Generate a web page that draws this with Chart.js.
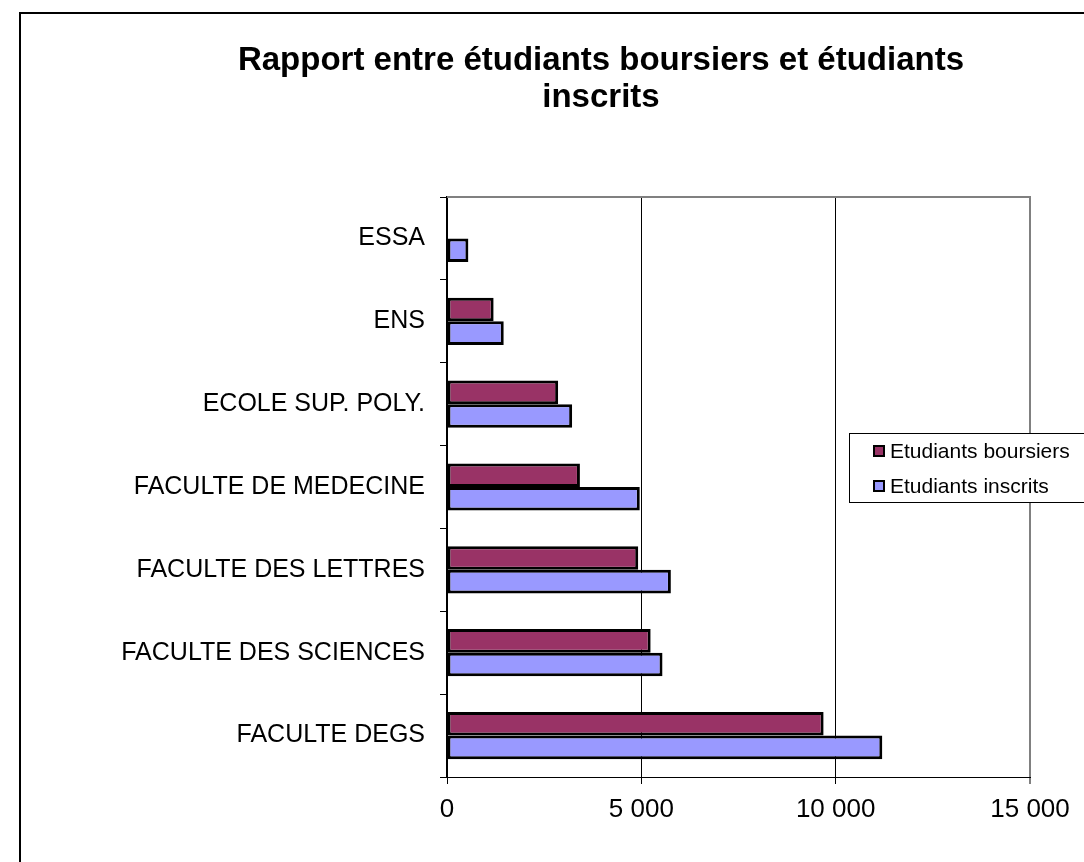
<!DOCTYPE html>
<html lang="fr">
<head>
    <meta charset="UTF-8">
    <title>Rapport entre étudiants boursiers et étudiants inscrits</title>
    <script src="https://cdn.jsdelivr.net/npm/chart.js"></script>
    <style>
        body { margin: 0; background: #fff; }
        #wrap { position: relative; width: 1084px; height: 862px; overflow: hidden; }
        #frame { position: absolute; left: 19px; top: 12px; width: 1200px; height: 1000px;
                 border-left: 2px solid #000; border-top: 2px solid #000; }
        #title { position: absolute; left: 101px; top: 40px; width: 1000px; text-align: center;
                 font: bold 33px/37px "Liberation Sans", Arial, sans-serif; color: #000; }
        #legend { position: absolute; left: 849px; top: 433px; width: 260px; height: 68px;
                  background: #fff; border: 1px solid #000; font: 21px "Liberation Sans", Arial, sans-serif; }
        #legend div { position: absolute; left: 23px; white-space: nowrap; line-height: 24px; }
        #legend span { display: inline-block; width: 8px; height: 8px; border: 2px solid #000;
                       margin-right: 5px; vertical-align: 1px; }
    </style>
</head>
<body>
<div id="wrap">
    <div id="frame"></div>
    <canvas id="chart" width="1084" height="862"></canvas>
    <div id="title">Rapport entre étudiants boursiers et étudiants<br>inscrits</div>
    <div id="legend"></div>
</div>

<script>
    // data
    const categories = ['ESSA', 'ENS', 'ECOLE SUP. POLY.', 'FACULTE DE MEDECINE',
                        'FACULTE DES LETTRES', 'FACULTE DES SCIENCES', 'FACULTE DEGS'];
    const boursiers = [null, 1200, 2860, 3420, 4920, 5240, 9690];
    const inscrits = [550, 1460, 3220, 4960, 5760, 5545, 11200];
    const seriesNames = ['Etudiants boursiers', 'Etudiants inscrits'];
    const xTicks = [0, 5000, 10000, 15000];
    const xTickLabels = ['0', '5 000', '10 000', '15 000'];

    const colors = ['#993366', '#9999FF'];

    Chart.defaults.font.family = '"Liberation Sans", Arial, sans-serif';
    Chart.defaults.color = '#000';

    // grey top edge of the plot area
    const plotBorder = {
        id: 'plotBorder',
        beforeDatasetsDraw(chart) {
            const a = chart.chartArea;
            const ctx = chart.ctx;
            ctx.save();
            ctx.strokeStyle = '#808080';
            ctx.lineWidth = 2;
            ctx.beginPath();
            ctx.moveTo(a.left, a.top);
            ctx.lineTo(a.right + 1, a.top);
            ctx.stroke();
            ctx.restore();
        }
    };

    const chart = new Chart(document.getElementById('chart'), {
        type: 'bar',
        data: {
            labels: categories,
            datasets: [
                { label: seriesNames[0], data: boursiers, backgroundColor: colors[0] },
                { label: seriesNames[1], data: inscrits, backgroundColor: colors[1] }
            ]
        },
        options: {
            indexAxis: 'y',
            responsive: false,
            animation: false,
            layout: { padding: { left: 90, right: 54, top: 197, bottom: 0 } },
            datasets: {
                bar: {
                    borderColor: '#000',
                    borderWidth: 3,
                    borderSkipped: false,
                    categoryPercentage: 0.57,
                    barPercentage: 1
                }
            },
            plugins: {
                legend: { display: false },
                tooltip: { enabled: false }
            },
            scales: {
                x: {
                    min: 0,
                    max: 15000,
                    afterBuildTicks: s => { s.ticks = xTicks.map(v => ({ value: v })); },
                    afterFit: s => { s.height = 85; },
                    ticks: {
                        font: { size: 26 },
                        padding: 10,
                        callback: (v, i) => xTickLabels[i]
                    },
                    grid: {
                        color: c => c.tick && c.tick.value === 15000 ? '#808080' : '#000',
                        lineWidth: c => c.tick && c.tick.value === 15000 ? 2 : 1,
                        tickLength: 7
                    },
                    border: { color: '#000', width: 1 }
                },
                y: {
                    afterFit: s => { s.width = 447 - 90; },
                    ticks: { font: { size: 25 }, padding: 15 },
                    grid: { drawOnChartArea: false, color: '#000', tickLength: 7 },
                    border: { color: '#000', width: 2 }
                }
            }
        },
        plugins: [plotBorder]
    });

    // legend box, built from the datasets
    const legend = document.getElementById('legend');
    chart.data.datasets.forEach((ds, i) => {
        const row = document.createElement('div');
        row.style.top = (5 + i * 35) + 'px';
        row.innerHTML = '<span style="background:' + ds.backgroundColor + '"></span>' + ds.label;
        legend.appendChild(row);
    });
</script>
</body>
</html>
